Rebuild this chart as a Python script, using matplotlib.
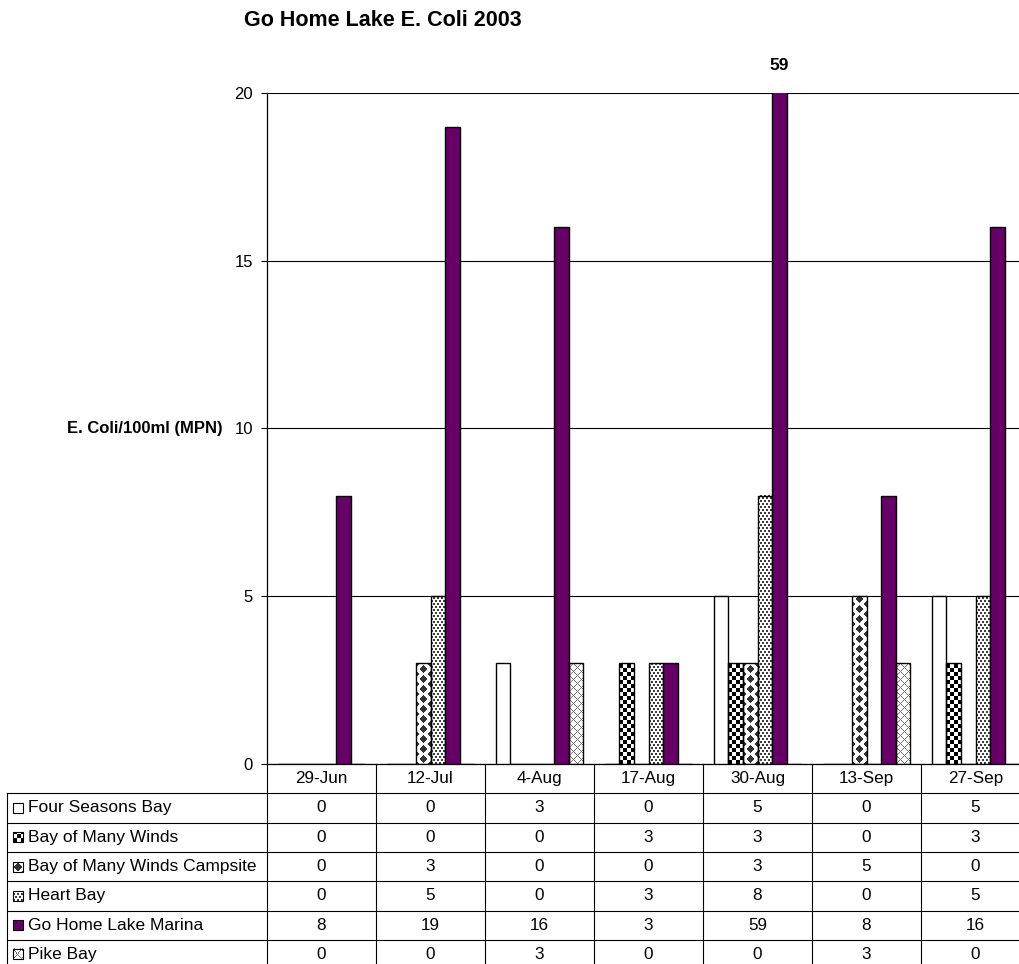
import numpy as np
import matplotlib
matplotlib.use("Agg")
import matplotlib.pyplot as plt
from matplotlib.patches import Rectangle

plt.rcParams['font.family'] = ['Liberation Sans', 'DejaVu Sans']

# data
dates = ["29-Jun", "12-Jul", "4-Aug", "17-Aug", "30-Aug", "13-Sep", "27-Sep"]
sites = ["Four Seasons Bay", "Bay of Many Winds", "Bay of Many Winds Campsite",
         "Heart Bay", "Go Home Lake Marina", "Pike Bay"]
four_seasons = [0, 0, 3, 0, 5, 0, 5]
many_winds = [0, 0, 0, 3, 3, 0, 3]
many_winds_camp = [0, 3, 0, 0, 3, 5, 0]
heart_bay = [0, 5, 0, 3, 8, 0, 5]
marina = [8, 19, 16, 3, 59, 8, 16]
pike_bay = [0, 0, 3, 0, 0, 3, 0]
series = [four_seasons, many_winds, many_winds_camp, heart_bay, marina, pike_bay]
kinds = ["plain", "checker", "diamond", "dots", "solid", "cross"]

YMAX = 20
PX_X = 109.0      # pixels per group
PX_Y = 671.0 / YMAX


def pattern(kind, w, h):
    yy, xx = np.mgrid[0:h, 0:w]
    white = np.array([1.0, 1.0, 1.0])
    if kind == "checker":
        m = ((xx // 4) + (yy // 4)) % 2 == 0
        ink = np.array([0.0, 0.0, 0.0])
    elif kind == "diamond":
        cx = w / 2.0
        dx1 = np.abs(((xx + 0.5 - cx) + 8) % 16 - 8)
        dy1 = np.abs((yy + 0.5) % 10 - 5)
        dx2 = np.abs((xx + 0.5 - cx) % 16 - 8)
        dy2 = np.abs((yy + 5.5) % 10 - 5)
        m = (dx1 + dy1 <= 4.2) | (dx2 + dy2 <= 4.2)
        ink = np.array([0.2, 0.2, 0.2])
    elif kind == "dots":
        m = ((xx % 4 < 2) & (yy % 6 < 2)) | (((xx + 2) % 4 < 2) & ((yy + 3) % 6 < 2))
        ink = np.array([0.25, 0.25, 0.25])
    elif kind == "cross":
        m = ((xx + yy) % 8 == 0) | ((xx - yy) % 8 == 0)
        ink = np.array([0.45, 0.45, 0.45])
    elif kind == "solid":
        m = np.ones((h, w), bool)
        ink = np.array([0.4, 0.0, 0.4])
    else:
        m = np.zeros((h, w), bool)
        ink = white
    return np.where(m[..., None], ink, white)


fig = plt.figure(figsize=(10.19, 9.64), dpi=100)
ax = fig.add_axes([267 / 1019, 200 / 964, 763 / 1019, 671 / 964])

n = len(dates)
bw = 0.8 / len(series)
x = np.arange(n)

for k, (vals, kind) in enumerate(zip(series, kinds)):
    xs = x + 0.1 + k * bw
    if kind == "solid":
        ax.bar(xs, vals, bw, align="edge", facecolor="#660066",
               edgecolor="black", linewidth=1.0, zorder=3)
    elif kind == "plain":
        ax.bar(xs, vals, bw, align="edge", facecolor="white",
               edgecolor="black", linewidth=1.0, zorder=3)
    else:
        for xi, v in zip(xs, vals):
            if v <= 0:
                continue
            top = min(v, YMAX)
            img = pattern(kind, int(round(bw * PX_X)), int(round(top * PX_Y)))
            ax.imshow(img, extent=(xi, xi + bw, 0, top), origin="lower",
                      interpolation="nearest", aspect="auto", zorder=2)
        ax.bar(xs, vals, bw, align="edge", facecolor="none",
               edgecolor="black", linewidth=1.0, zorder=3)

# value above the clipped bar
for k, vals in enumerate(series):
    for xi, v in zip(x + 0.1 + k * bw, vals):
        if v > YMAX:
            ax.annotate(str(v), xy=(xi + bw / 2, YMAX), xytext=(0, 19.5),
                        textcoords="offset points", ha="center", va="center",
                        fontsize=12.5, fontweight="bold", annotation_clip=False)

ax.set_xlim(0, n)
ax.set_ylim(0, YMAX)
ax.set_yticks([0, 5, 10, 15, 20])
ax.yaxis.grid(True, color="black", linewidth=0.8)
ax.set_axisbelow(True)
ax.tick_params(axis="y", length=4.3, width=0.8, pad=5.8, labelsize=12)
ax.tick_params(axis="x", length=0, labelbottom=False)
for s in ["top", "right"]:
    ax.spines[s].set_visible(False)
ax.spines["left"].set_linewidth(0.9)
ax.spines["bottom"].set_linewidth(0.9)

# data table below the plot
tr = ax.get_xaxis_transform()
rh = 29.3 / 671.0
left = (7 - 267) / PX_X
nrows = len(series) + 1
for i in range(n + 1):
    ax.plot([i, i], [0, -nrows * rh], color="black", lw=0.8, transform=tr, clip_on=False)
ax.plot([left, left], [-rh, -nrows * rh], color="black", lw=0.8, transform=tr, clip_on=False)
for r in range(1, nrows + 1):
    ax.plot([left, n], [-r * rh, -r * rh], color="black", lw=0.8, transform=tr, clip_on=False)

for i, d in enumerate(dates):
    ax.text(i + 0.5, -rh / 2, d, transform=tr, ha="center", va="center", fontsize=12.3)

kx0 = (13 - 267) / PX_X
kx1 = (23 - 267) / PX_X
kh = 5.0 / 671.0
for r, (name, vals, kind) in enumerate(zip(sites, series, kinds)):
    yc = -rh * (r + 1.5)
    key = pattern(kind, 10, 10)
    ax.imshow(key, extent=(kx0, kx1, yc - kh, yc + kh), origin="lower",
              interpolation="nearest", aspect="auto", transform=tr,
              clip_on=False, zorder=3)
    ax.add_patch(Rectangle((kx0, yc - kh), kx1 - kx0, 2 * kh, transform=tr,
                           fill=False, edgecolor="black", lw=0.8, clip_on=False, zorder=4))
    ax.text((28 - 267) / PX_X, yc, name, transform=tr, ha="left", va="center", fontsize=12.5)
    for i, v in enumerate(vals):
        ax.text(i + 0.5, yc, str(v), transform=tr, ha="center", va="center", fontsize=12.3)

ax.set_xlim(0, n)
ax.set_ylim(0, YMAX)

fig.text(244 / 1019, 1 - 21 / 964, "Go Home Lake E. Coli 2003", ha="left", va="center",
         fontsize=15.5, fontweight="bold")
fig.text(223 / 1019, 200 / 964 + 0.5 * 671 / 964, "E. Coli/100ml (MPN)", ha="right",
         va="center", fontsize=12, fontweight="bold")

fig.savefig("out.png", dpi=100)
